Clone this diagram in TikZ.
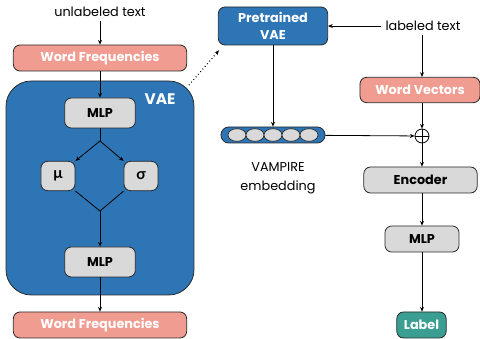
\documentclass[tikz,border=0pt]{standalone}
\usepackage{fontspec}
\setmainfont{Poppins}
\newfontfamily\greekfont{Lato}
\usetikzlibrary{positioning,shapes.geometric,arrows.meta}

\definecolor{vaeblue}{RGB}{46,117,182}
\definecolor{freqpink}{RGB}{241,156,145}
\definecolor{boxgray}{RGB}{217,217,217}
\definecolor{labelteal}{RGB}{58,158,146}
\definecolor{edgegray}{RGB}{40,40,40}

\tikzset{
  box/.style={draw=edgegray, line width=0.6pt, rounded corners=5pt, font=\bfseries, inner sep=0pt},
  freqbox/.style={box, fill=freqpink, text=white, minimum width=130pt, minimum height=19.5pt},
  graybox/.style={box, fill=boxgray, text=black},
  flow/.style={-{Stealth[length=3.5pt,width=3pt]}, line width=0.6pt},
  link/.style={line width=0.6pt},
}

\begin{document}
\begin{tikzpicture}[x=0.75pt,y=-0.75pt]
\fontsize{9.6}{12.5}\selectfont
\useasboundingbox (0,0) rectangle (480,339);

% left: VAE pretraining
\node (unlab) at (100,12) {unlabeled text};
\node[freqbox] (freqin) at (100,58) {Word Frequencies};
\node[draw=edgegray, line width=0.6pt, fill=vaeblue, rounded corners=19pt,
      minimum width=141pt, minimum height=160.5pt] (vae) at (100,188) {};
\node[text=white, font=\bfseries\fontsize{11.5}{13}\selectfont] (vaename) at (160,99) {VAE};
\node[graybox, minimum width=53pt, minimum height=22.5pt] (mlpa) at (100,113) {MLP};
\node[graybox, minimum width=25.5pt, minimum height=22pt, font=\greekfont\bfseries\fontsize{11.5}{13}\selectfont] (mu) at (58,176) {μ};
\node[graybox, minimum width=25.5pt, minimum height=22pt, font=\greekfont\bfseries\fontsize{11.5}{13}\selectfont] (sigma) at (141,176) {σ};
\node[graybox, minimum width=53pt, minimum height=22.5pt] (mlpb) at (100,262) {MLP};
\node[freqbox] (freqout) at (100,325) {Word Frequencies};
\coordinate (split) at (100,141);
\coordinate (join) at (100,211);

\draw[flow] (unlab) -- (freqin);
\draw[flow] (freqin) -- (mlpa);
\draw[link] (mlpa) -- (split);
\draw[flow] (split) -- (mu.north east);
\draw[flow] (split) -- (sigma.north west);
\draw[link] (mu.south east) -- (join);
\draw[link] (sigma.south west) -- (join);
\draw[flow] (join) -- (mlpb);
\draw[flow] (mlpb) -- (freqout);

% middle: frozen VAE and embedding
\node[box, fill=vaeblue, text=white, align=center, minimum width=82pt, minimum height=28.5pt] (pvae) at (273,26) {Pretrained\\VAE};
\node[draw=edgegray, line width=0.6pt, fill=vaeblue, rounded corners=5.8pt,
      minimum width=78pt, minimum height=12pt, inner sep=0pt] (emb) at (273,135) {};
\foreach \i in {0,...,4}
  \node[ellipse, draw=edgegray, line width=0.5pt, fill=boxgray,
        minimum width=13.5pt, minimum height=9.5pt, inner sep=0pt] (cell\i) at (237+18*\i,135) {};
\node[align=center] (embname) at (278,178) {VAMPIRE\\[2pt]embedding};
\coordinate (vaetip) at (189,85);

\draw[flow, dotted, line width=0.9pt] (vaetip) -- ([shift={(1,5)}]pvae.south west);
\draw[flow] (pvae) -- (emb);

% right: classifier
\node (lab) at (423,26) {labeled text};
\node[freqbox, minimum width=90pt, minimum height=19pt] (wvec) at (420,90) {Word Vectors};
\node[circle, draw=black, line width=0.6pt, minimum size=10.5pt, inner sep=0pt] (plus) at (422,136) {};
\draw[line width=0.6pt] (plus.north) -- (plus.south) (plus.west) -- (plus.east);
\node[graybox, minimum width=85pt, minimum height=19.5pt] (enc) at (420.5,180) {Encoder};
\node[graybox, minimum width=55.5pt, minimum height=19.5pt] (mlpc) at (422,239) {MLP};
\node[box, fill=labelteal, text=white, minimum width=37pt, minimum height=19.5pt] (out) at (421.5,325) {Label};

\draw[flow] (lab) -- (pvae);
\draw[flow] (lab.south -| plus) -- (wvec.north -| plus);
\draw[flow] (wvec.south -| plus) -- (plus);
\draw[flow] (emb) -- (plus);
\draw[flow] (plus) -- (enc.north -| plus);
\draw[flow] (enc.south -| mlpc) -- (mlpc);
\draw[flow] (mlpc) -- (out.north -| mlpc);
\end{tikzpicture}
\end{document}
